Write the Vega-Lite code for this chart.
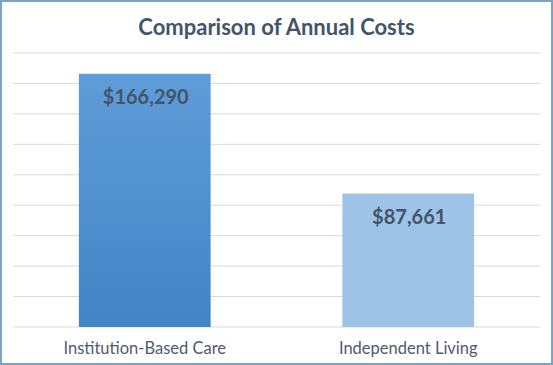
{
  "$schema": "https://vega.github.io/schema/vega-lite/v6.json",
  "width": 551,
  "height": 363,
  "autosize": {"type": "none"},
  "padding": {"left": 1, "top": 1, "right": 1, "bottom": 1},
  "background": "white",
  "title": {
    "text": "Comparison of Annual Costs",
    "font": "Lato",
    "fontSize": 22,
    "fontWeight": "bold",
    "color": "#44546a",
    "anchor": "middle",
    "frame": "group",
    "baseline": "top",
    "offset": -39
  },
  "datasets": {
    "costs": [
      {"category": "Institution-Based Care", "cost": 166290},
      {"category": "Independent Living", "cost": 87661}
    ],
    "gridlines": [
      {"v": 0}, {"v": 20000}, {"v": 40000}, {"v": 60000}, {"v": 80000},
      {"v": 100000}, {"v": 120000}, {"v": 140000}, {"v": 160000}, {"v": 180000}
    ]
  },
  "layer": [
    {
      "data": {"name": "gridlines"},
      "mark": {"type": "rule", "color": "#d9d9d9", "strokeWidth": 1},
      "encoding": {
        "x": {"datum": 0, "type": "quantitative", "scale": {"domain": [0, 1], "range": [12, 539]}, "axis": null},
        "x2": {"datum": 1},
        "y": {"field": "v", "type": "quantitative", "scale": {"domain": [0, 180000], "range": [326, 52], "nice": false}, "axis": null}
      }
    },
    {
      "data": {"name": "costs"},
      "encoding": {
        "x": {
          "field": "category",
          "type": "nominal",
          "scale": {
            "domain": ["Institution-Based Care", "Independent Living"],
            "range": [12, 539],
            "paddingInner": 0.5,
            "paddingOuter": 0.25
          },
          "axis": {
            "title": null,
            "orient": "bottom",
            "offset": -37,
            "domain": false,
            "ticks": false,
            "grid": false,
            "labelPadding": 13,
            "labelFont": "Lato",
            "labelFontSize": 16.5,
            "labelColor": "#4f5b6b",
            "labelAngle": 0
          }
        },
        "y": {
          "field": "cost",
          "type": "quantitative",
          "scale": {"domain": [0, 180000], "range": [326, 52], "nice": false, "zero": true},
          "axis": null
        }
      },
      "layer": [
        {
          "transform": [{"filter": "datum.category === 'Institution-Based Care'"}],
          "mark": {
            "type": "bar",
            "color": {
              "gradient": "linear",
              "x1": 0, "y1": 0, "x2": 0, "y2": 1,
              "stops": [
                {"offset": 0, "color": "#5f9dd9"},
                {"offset": 1, "color": "#4284c6"}
              ]
            }
          }
        },
        {
          "transform": [{"filter": "datum.category === 'Independent Living'"}],
          "mark": {"type": "bar", "color": "#9dc3e6"}
        },
        {
          "mark": {
            "type": "text",
            "baseline": "alphabetic",
            "dy": 30,
            "dx": 1,
            "font": "Lato",
            "fontSize": 20,
            "fontWeight": "bold",
            "color": "#44546a"
          },
          "encoding": {"text": {"field": "cost", "type": "quantitative", "format": "$,.0f"}}
        }
      ]
    }
  ],
  "resolve": {"scale": {"x": "independent"}, "axis": {"x": "independent"}},
  "config": {"view": {"stroke": "#7aa3cc", "strokeWidth": 2}}
}
